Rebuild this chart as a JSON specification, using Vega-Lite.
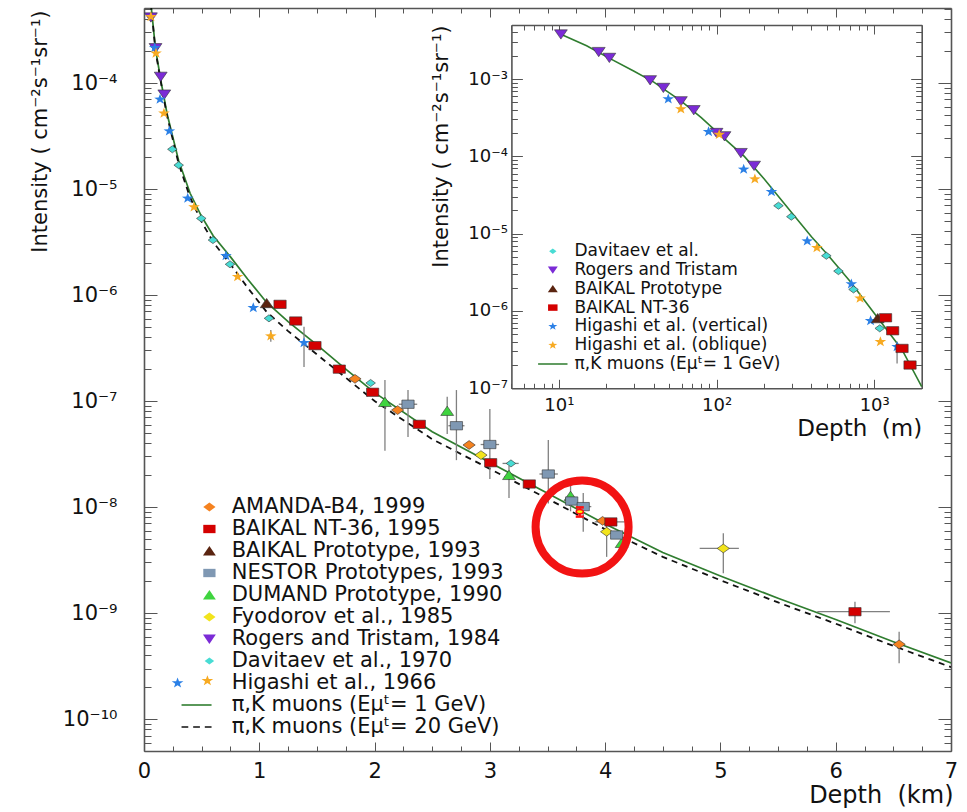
{
  "$schema": "https://vega.github.io/schema/vega-lite/v6.json",
  "width": 807,
  "height": 743,
  "autosize": {"type": "none"},
  "padding": {"left": 144, "top": 8, "right": 16, "bottom": 61},
  "background": "white",
  "config": {"view": {"stroke": null}, "font": "DejaVu Sans"},
  "datasets": {
    "curves": [
      {"series": "1 GeV", "km": 0.05, "v": 7.08e-4},
      {"series": "1 GeV", "km": 0.07, "v": 4.37e-4},
      {"series": "1 GeV", "km": 0.1, "v": 2.09e-4},
      {"series": "1 GeV", "km": 0.15, "v": 1.0e-4},
      {"series": "1 GeV", "km": 0.2, "v": 5.13e-5},
      {"series": "1 GeV", "km": 0.3, "v": 1.86e-5},
      {"series": "1 GeV", "km": 0.4, "v": 9.12e-6},
      {"series": "1 GeV", "km": 0.5, "v": 5.5e-6},
      {"series": "1 GeV", "km": 0.6, "v": 3.63e-6},
      {"series": "1 GeV", "km": 0.75, "v": 2.29e-6},
      {"series": "1 GeV", "km": 0.9, "v": 1.41e-6},
      {"series": "1 GeV", "km": 1.064, "v": 8.51e-7},
      {"series": "1 GeV", "km": 1.25, "v": 5.62e-7},
      {"series": "1 GeV", "km": 1.5, "v": 3.39e-7},
      {"series": "1 GeV", "km": 1.75, "v": 2.0e-7},
      {"series": "1 GeV", "km": 2.0, "v": 1.2e-7},
      {"series": "1 GeV", "km": 2.5, "v": 5.13e-8},
      {"series": "1 GeV", "km": 3.0, "v": 2.63e-8},
      {"series": "1 GeV", "km": 3.5, "v": 1.35e-8},
      {"series": "1 GeV", "km": 4.0, "v": 6.92e-9},
      {"series": "1 GeV", "km": 4.5, "v": 3.72e-9},
      {"series": "1 GeV", "km": 5.0, "v": 2.24e-9},
      {"series": "1 GeV", "km": 5.5, "v": 1.38e-9},
      {"series": "1 GeV", "km": 6.0, "v": 8.71e-10},
      {"series": "1 GeV", "km": 6.5, "v": 5.37e-10},
      {"series": "1 GeV", "km": 7.0, "v": 3.39e-10},
      {"series": "20 GeV", "km": 0.05, "v": 7.08e-4},
      {"series": "20 GeV", "km": 0.07, "v": 4.27e-4},
      {"series": "20 GeV", "km": 0.1, "v": 2.0e-4},
      {"series": "20 GeV", "km": 0.15, "v": 9.66e-5},
      {"series": "20 GeV", "km": 0.2, "v": 4.9e-5},
      {"series": "20 GeV", "km": 0.3, "v": 1.74e-5},
      {"series": "20 GeV", "km": 0.4, "v": 8.32e-6},
      {"series": "20 GeV", "km": 0.5, "v": 4.9e-6},
      {"series": "20 GeV", "km": 0.6, "v": 3.16e-6},
      {"series": "20 GeV", "km": 0.75, "v": 1.95e-6},
      {"series": "20 GeV", "km": 0.9, "v": 1.17e-6},
      {"series": "20 GeV", "km": 1.064, "v": 6.92e-7},
      {"series": "20 GeV", "km": 1.25, "v": 4.57e-7},
      {"series": "20 GeV", "km": 1.5, "v": 2.75e-7},
      {"series": "20 GeV", "km": 1.75, "v": 1.66e-7},
      {"series": "20 GeV", "km": 2.0, "v": 1.0e-7},
      {"series": "20 GeV", "km": 2.5, "v": 4.37e-8},
      {"series": "20 GeV", "km": 3.0, "v": 2.29e-8},
      {"series": "20 GeV", "km": 3.5, "v": 1.2e-8},
      {"series": "20 GeV", "km": 4.0, "v": 6.17e-9},
      {"series": "20 GeV", "km": 4.5, "v": 3.39e-9},
      {"series": "20 GeV", "km": 5.0, "v": 2.04e-9},
      {"series": "20 GeV", "km": 5.5, "v": 1.26e-9},
      {"series": "20 GeV", "km": 6.0, "v": 7.94e-10},
      {"series": "20 GeV", "km": 6.5, "v": 4.9e-10},
      {"series": "20 GeV", "km": 7.0, "v": 3.09e-10}
    ],
    "mainPoints": [
      {"series": "Higashi et al., 1966", "sub": "vertical", "km": 0.093, "v": 2.15e-4},
      {"series": "Higashi et al., 1966", "sub": "vertical", "km": 0.139, "v": 7.01e-5},
      {"series": "Higashi et al., 1966", "sub": "vertical", "km": 0.22, "v": 3.52e-5},
      {"series": "Higashi et al., 1966", "sub": "vertical", "km": 0.379, "v": 8.17e-6},
      {"series": "Higashi et al., 1966", "sub": "vertical", "km": 0.711, "v": 2.35e-6},
      {"series": "Higashi et al., 1966", "sub": "vertical", "km": 0.948, "v": 7.59e-7},
      {"series": "Higashi et al., 1966", "sub": "vertical", "km": 1.388, "v": 3.55e-7, "lo": 2.09e-7, "hi": 5.01e-7},
      {"series": "Rogers and Tristam, 1984", "km": 0.06, "v": 4.17e-4},
      {"series": "Rogers and Tristam, 1984", "km": 0.1, "v": 2.14e-4},
      {"series": "Rogers and Tristam, 1984", "km": 0.145, "v": 1.15e-4},
      {"series": "Rogers and Tristam, 1984", "km": 0.176, "v": 7.82e-5},
      {"series": "Higashi et al., 1966", "sub": "oblique", "km": 0.06, "v": 4.22e-4},
      {"series": "Higashi et al., 1966", "sub": "oblique", "km": 0.104, "v": 1.91e-4},
      {"series": "Higashi et al., 1966", "sub": "oblique", "km": 0.173, "v": 5.18e-5},
      {"series": "Higashi et al., 1966", "sub": "oblique", "km": 0.434, "v": 6.76e-6},
      {"series": "Higashi et al., 1966", "sub": "oblique", "km": 0.812, "v": 1.49e-6},
      {"series": "Higashi et al., 1966", "sub": "oblique", "km": 1.1, "v": 4.1e-7, "lo": 3.63e-7, "hi": 4.68e-7},
      {"series": "Davitaev et al., 1970", "km": 0.246, "v": 2.37e-5},
      {"series": "Davitaev et al., 1970", "km": 0.301, "v": 1.68e-5},
      {"series": "Davitaev et al., 1970", "km": 0.497, "v": 5.28e-6},
      {"series": "Davitaev et al., 1970", "km": 0.598, "v": 3.3e-6},
      {"series": "Davitaev et al., 1970", "km": 0.746, "v": 1.95e-6},
      {"series": "Davitaev et al., 1970", "km": 1.084, "v": 6.03e-7},
      {"series": "Davitaev et al., 1970", "km": 1.966, "v": 1.48e-7},
      {"series": "Davitaev et al., 1970", "km": 3.183, "v": 2.58e-8, "xlo": 3.11, "xhi": 3.25},
      {"series": "AMANDA-B4, 1999", "km": 1.83, "v": 1.62e-7},
      {"series": "AMANDA-B4, 1999", "km": 2.2, "v": 8.22e-8},
      {"series": "AMANDA-B4, 1999", "km": 2.82, "v": 3.85e-8},
      {"series": "AMANDA-B4, 1999", "km": 3.978, "v": 7.41e-9},
      {"series": "AMANDA-B4, 1999", "km": 6.55, "v": 5.07e-10, "lo": 3.36e-10, "hi": 6.67e-10},
      {"series": "DUMAND Prototype, 1990", "km": 2.09, "v": 9.77e-8, "lo": 3.39e-8, "hi": 1.58e-7},
      {"series": "DUMAND Prototype, 1990", "km": 2.63, "v": 8.05e-8, "lo": 4.9e-8, "hi": 1.1e-7},
      {"series": "DUMAND Prototype, 1990", "km": 3.166, "v": 2.0e-8, "lo": 1.22e-8, "hi": 2.45e-8},
      {"series": "DUMAND Prototype, 1990", "km": 3.7, "v": 1.27e-8, "lo": 9.12e-9, "hi": 1.62e-8},
      {"series": "DUMAND Prototype, 1990", "km": 4.143, "v": 4.57e-9},
      {"series": "Fyodorov et al., 1985", "km": 2.923, "v": 3.09e-8},
      {"series": "Fyodorov et al., 1985", "km": 4.013, "v": 5.85e-9, "lo": 3.39e-9, "hi": 7.08e-9},
      {"series": "Fyodorov et al., 1985", "km": 5.025, "v": 4.07e-9, "lo": 2.37e-9, "hi": 5.65e-9, "xlo": 4.82, "xhi": 5.16},
      {"series": "BAIKAL NT-36, 1995", "km": 1.18, "v": 8.17e-7},
      {"series": "BAIKAL NT-36, 1995", "km": 1.316, "v": 5.69e-7},
      {"series": "BAIKAL NT-36, 1995", "km": 1.483, "v": 3.33e-7},
      {"series": "BAIKAL NT-36, 1995", "km": 1.694, "v": 2.0e-7},
      {"series": "BAIKAL NT-36, 1995", "km": 1.983, "v": 1.21e-7},
      {"series": "BAIKAL NT-36, 1995", "km": 2.388, "v": 6.03e-8},
      {"series": "BAIKAL NT-36, 1995", "km": 3.007, "v": 2.62e-8},
      {"series": "BAIKAL NT-36, 1995", "km": 3.342, "v": 1.65e-8},
      {"series": "BAIKAL NT-36, 1995", "km": 4.05, "v": 7.24e-9, "xlo": 3.91, "xhi": 4.19},
      {"series": "BAIKAL NT-36, 1995", "km": 6.167, "v": 1.03e-9, "lo": 8.0e-10, "hi": 1.28e-9, "xlo": 5.84, "xhi": 6.47},
      {"series": "NESTOR Prototypes, 1993", "km": 2.29, "v": 9.33e-8, "lo": 4.57e-8, "hi": 1.27e-7, "xlo": 2.21, "xhi": 2.37},
      {"series": "NESTOR Prototypes, 1993", "km": 2.71, "v": 5.85e-8, "lo": 2.77e-8, "hi": 1.27e-7, "xlo": 2.64, "xhi": 2.78},
      {"series": "NESTOR Prototypes, 1993", "km": 3.0, "v": 3.89e-8, "lo": 1.84e-8, "hi": 8.41e-8, "xlo": 2.92, "xhi": 3.08},
      {"series": "NESTOR Prototypes, 1993", "km": 3.507, "v": 2.05e-8, "lo": 1.08e-8, "hi": 4.29e-8, "xlo": 3.43, "xhi": 3.59},
      {"series": "NESTOR Prototypes, 1993", "km": 3.71, "v": 1.14e-8},
      {"series": "NESTOR Prototypes, 1993", "km": 3.81, "v": 1.01e-8, "lo": 5.86e-9, "hi": 1.36e-8, "xlo": 3.75, "xhi": 3.88},
      {"series": "NESTOR Prototypes, 1993", "km": 4.1, "v": 5.45e-9},
      {"series": "BAIKAL Prototype, 1993", "km": 1.064, "v": 8.36e-7}
    ],
    "highlight": [
      {"km": 3.78, "v": 9.04e-9, "lo": 8.13e-9, "hi": 9.93e-9, "xlo": 3.745, "xhi": 3.815}
    ],
    "ring": [
      {"km": 3.8, "v": 6.47e-9}
    ],
    "insetCurve": [
      {"m": 9.8, "v": 3.98e-3},
      {"m": 15, "v": 2.69e-3},
      {"m": 20, "v": 1.95e-3},
      {"m": 30, "v": 1.26e-3},
      {"m": 40, "v": 9.12e-4},
      {"m": 60, "v": 5.13e-4},
      {"m": 80, "v": 3.16e-4},
      {"m": 100, "v": 2.09e-4},
      {"m": 150, "v": 1.0e-4},
      {"m": 200, "v": 5.13e-5},
      {"m": 300, "v": 1.86e-5},
      {"m": 400, "v": 9.12e-6},
      {"m": 500, "v": 5.5e-6},
      {"m": 700, "v": 2.45e-6},
      {"m": 1000, "v": 9.33e-7},
      {"m": 1500, "v": 3.16e-7},
      {"m": 2000, "v": 1.05e-7}
    ],
    "insetPoints": [
      {"series": "Rogers and Tristam", "m": 10.3, "v": 3.8e-3},
      {"series": "Rogers and Tristam", "m": 17.9, "v": 2.25e-3},
      {"series": "Rogers and Tristam", "m": 20.9, "v": 1.89e-3},
      {"series": "Rogers and Tristam", "m": 37.9, "v": 9.7e-4},
      {"series": "Rogers and Tristam", "m": 46.0, "v": 7.73e-4},
      {"series": "Rogers and Tristam", "m": 59.4, "v": 5.19e-4},
      {"series": "Rogers and Tristam", "m": 71.7, "v": 3.98e-4},
      {"series": "Rogers and Tristam", "m": 100, "v": 2.02e-4},
      {"series": "Rogers and Tristam", "m": 112.3, "v": 1.83e-4},
      {"series": "Rogers and Tristam", "m": 142.6, "v": 1.11e-4},
      {"series": "Rogers and Tristam", "m": 173, "v": 7.59e-5},
      {"series": "Higashi et al. (vertical)", "m": 49.4, "v": 5.51e-4},
      {"series": "Higashi et al. (vertical)", "m": 89, "v": 2.08e-4},
      {"series": "Higashi et al. (vertical)", "m": 148.6, "v": 6.79e-5},
      {"series": "Higashi et al. (vertical)", "m": 223, "v": 3.48e-5},
      {"series": "Higashi et al. (vertical)", "m": 376, "v": 8.02e-6},
      {"series": "Higashi et al. (vertical)", "m": 716, "v": 2.23e-6},
      {"series": "Higashi et al. (vertical)", "m": 948, "v": 7.46e-7},
      {"series": "Higashi et al. (vertical)", "m": 1396, "v": 3.44e-7, "lo": 2.09e-7, "hi": 4.0e-7},
      {"series": "Higashi et al. (oblique)", "m": 59.4, "v": 4.09e-4},
      {"series": "Higashi et al. (oblique)", "m": 104, "v": 1.92e-4},
      {"series": "Higashi et al. (oblique)", "m": 175, "v": 5.08e-5},
      {"series": "Higashi et al. (oblique)", "m": 433, "v": 6.58e-6},
      {"series": "Higashi et al. (oblique)", "m": 813, "v": 1.46e-6},
      {"series": "Higashi et al. (oblique)", "m": 1094, "v": 4.0e-7},
      {"series": "Davitaev et al.", "m": 247, "v": 2.3e-5},
      {"series": "Davitaev et al.", "m": 298, "v": 1.66e-5},
      {"series": "Davitaev et al.", "m": 497, "v": 5.18e-6},
      {"series": "Davitaev et al.", "m": 593, "v": 3.28e-6},
      {"series": "Davitaev et al.", "m": 739, "v": 1.9e-6},
      {"series": "Davitaev et al.", "m": 1084, "v": 5.96e-7},
      {"series": "BAIKAL Prototype", "m": 1052, "v": 8.02e-7},
      {"series": "BAIKAL NT-36", "m": 1180, "v": 8.17e-7},
      {"series": "BAIKAL NT-36", "m": 1309, "v": 5.55e-7},
      {"series": "BAIKAL NT-36", "m": 1501, "v": 3.28e-7},
      {"series": "BAIKAL NT-36", "m": 1687, "v": 2.0e-7}
    ]
  },
  "layer": [
    {
      "name": "main",
      "layer": [
        {
          "data": {"name": "curves"},
          "transform": [{"filter": "datum.series === '1 GeV'"}],
          "mark": {"type": "line", "color": "#2f7d2f", "strokeWidth": 1.7, "clip": true},
          "encoding": {
            "x": {"field": "km", "type": "quantitative", "scale": {"domain": [0, 7], "nice": false, "zero": false},
              "axis": {"orient": "bottom", "values": [0,0.25,0.5,0.75,1,1.25,1.5,1.75,2,2.25,2.5,2.75,3,3.25,3.5,3.75,4,4.25,4.5,4.75,5,5.25,5.5,5.75,6,6.25,6.5,6.75,7],
                "labelExpr": "datum.value % 1 === 0 ? format(datum.value, 'd') : ''",
                "tickSize": {"condition": {"test": "datum.value % 1 === 0", "value": -9}, "value": -5},
                "tickColor": "#555555", "tickWidth": 1, "domainColor": "#555555", "domainWidth": 1.6, "grid": false,
                "labelFont": "DejaVu Sans", "labelFontSize": 21, "labelColor": "#111111", "labelPadding": 18,
                "labelFlush": false, "labelOverlap": false, "labelBound": false,
                "title": "Depth\u00a0 (km)", "titleFont": "DejaVu Sans", "titleFontSize": 24, "titleFontWeight": "normal", "titleColor": "#111111",
                "titleX": 809, "titleY": 44, "titleAlign": "right", "titleBaseline": "middle"}},
            "y": {"field": "v", "type": "quantitative", "scale": {"type": "log", "domain": [5.0e-11, 5.1e-4], "nice": false},
              "axis": {"orient": "left",
                "values": [5e-11,6e-11,7e-11,8e-11,9e-11,1e-10,2e-10,3e-10,4e-10,5e-10,6e-10,7e-10,8e-10,9e-10,1e-9,2e-9,3e-9,4e-9,5e-9,6e-9,7e-9,8e-9,9e-9,1e-8,2e-8,3e-8,4e-8,5e-8,6e-8,7e-8,8e-8,9e-8,1e-7,2e-7,3e-7,4e-7,5e-7,6e-7,7e-7,8e-7,9e-7,1e-6,2e-6,3e-6,4e-6,5e-6,6e-6,7e-6,8e-6,9e-6,1e-5,2e-5,3e-5,4e-5,5e-5,6e-5,7e-5,8e-5,9e-5,1e-4,2e-4,3e-4,4e-4,5e-4],
                "labelExpr": "abs(log(datum.value)/LN10 - round(log(datum.value)/LN10)) < 0.001 ? '10⁻' + (round(-log(datum.value)/LN10) >= 10 ? '¹' + ['⁰','¹','²','³','⁴','⁵','⁶','⁷','⁸','⁹'][round(-log(datum.value)/LN10) - 10] : ['⁰','¹','²','³','⁴','⁵','⁶','⁷','⁸','⁹'][round(-log(datum.value)/LN10)]) : ''",
                "tickSize": {"condition": {"test": "abs(log(datum.value)/LN10 - round(log(datum.value)/LN10)) < 0.001", "value": -13}, "value": -7},
                "tickColor": "#555555", "tickWidth": 1, "domainColor": "#555555", "domainWidth": 1.6, "grid": false,
                "labelFont": "DejaVu Sans", "labelFontSize": 21, "labelColor": "#111111", "labelPadding": 40, "labelBaseline": "middle",
                "labelFlush": false, "labelOverlap": false, "labelBound": false,
                "title": "Intensity ( cm⁻²s⁻¹sr⁻¹)", "titleFont": "DejaVu Sans", "titleFontSize": 21, "titleFontWeight": "normal", "titleColor": "#111111",
                "titleX": -104, "titleY": 2, "titleAngle": 270, "titleAlign": "right", "titleBaseline": "middle"}}
          }
        },
        {
          "data": {"name": "curves"},
          "transform": [{"filter": "datum.series === '20 GeV'"}],
          "mark": {"type": "line", "color": "#111111", "strokeWidth": 1.8, "strokeDash": [6, 5], "clip": true},
          "encoding": {
            "x": {"field": "km", "type": "quantitative", "scale": {"domain": [0, 7], "nice": false, "zero": false}, "axis": null},
            "y": {"field": "v", "type": "quantitative", "scale": {"type": "log", "domain": [5.0e-11, 5.1e-4], "nice": false}, "axis": null}
          }
        },
        {
          "data": {"name": "mainPoints"},
          "transform": [{"filter": "isValid(datum.lo)"}],
          "mark": {"type": "rule", "color": "#808080", "strokeWidth": 1.3},
          "encoding": {
            "x": {"field": "km", "type": "quantitative", "scale": {"domain": [0, 7], "nice": false, "zero": false}, "axis": null},
            "y": {"field": "lo", "type": "quantitative", "scale": {"type": "log", "domain": [5.0e-11, 5.1e-4], "nice": false}, "axis": null},
            "y2": {"field": "hi"}
          }
        },
        {
          "data": {"name": "mainPoints"},
          "transform": [{"filter": "isValid(datum.xlo)"}],
          "mark": {"type": "rule", "color": "#808080", "strokeWidth": 1.3},
          "encoding": {
            "x": {"field": "xlo", "type": "quantitative", "scale": {"domain": [0, 7], "nice": false, "zero": false}, "axis": null},
            "x2": {"field": "xhi"},
            "y": {"field": "v", "type": "quantitative", "scale": {"type": "log", "domain": [5.0e-11, 5.1e-4], "nice": false}, "axis": null}
          }
        },
        {
          "data": {"name": "mainPoints"},
          "transform": [{"filter": "!isValid(datum.sub)"}],
          "mark": {"type": "point", "filled": true, "opacity": 1, "size": 150, "stroke": "#333333", "strokeOpacity": 0.75, "strokeWidth": 0.8},
          "encoding": {
            "x": {"field": "km", "type": "quantitative", "scale": {"domain": [0, 7], "nice": false, "zero": false},
              "axis": {"orient": "top", "values": [0,0.25,0.5,0.75,1,1.25,1.5,1.75,2,2.25,2.5,2.75,3,3.25,3.5,3.75,4,4.25,4.5,4.75,5,5.25,5.5,5.75,6,6.25,6.5,6.75,7],
                "labels": false, "tickSize": {"condition": {"test": "datum.value % 1 === 0", "value": -9}, "value": -5},
                "tickColor": "#555555", "tickWidth": 1, "domainColor": "#555555", "domainWidth": 1.6, "grid": false, "title": null}},
            "y": {"field": "v", "type": "quantitative", "scale": {"type": "log", "domain": [5.0e-11, 5.1e-4], "nice": false},
              "axis": {"orient": "right",
                "values": [5e-11,6e-11,7e-11,8e-11,9e-11,1e-10,2e-10,3e-10,4e-10,5e-10,6e-10,7e-10,8e-10,9e-10,1e-9,2e-9,3e-9,4e-9,5e-9,6e-9,7e-9,8e-9,9e-9,1e-8,2e-8,3e-8,4e-8,5e-8,6e-8,7e-8,8e-8,9e-8,1e-7,2e-7,3e-7,4e-7,5e-7,6e-7,7e-7,8e-7,9e-7,1e-6,2e-6,3e-6,4e-6,5e-6,6e-6,7e-6,8e-6,9e-6,1e-5,2e-5,3e-5,4e-5,5e-5,6e-5,7e-5,8e-5,9e-5,1e-4,2e-4,3e-4,4e-4,5e-4],
                "labels": false,
                "tickSize": {"condition": {"test": "abs(log(datum.value)/LN10 - round(log(datum.value)/LN10)) < 0.001", "value": -13}, "value": -7},
                "tickColor": "#555555", "tickWidth": 1, "domainColor": "#555555", "domainWidth": 1.6, "grid": false, "title": null}},
            "color": {"field": "series", "type": "nominal",
              "scale": {"domain": ["AMANDA-B4, 1999","BAIKAL NT-36, 1995","BAIKAL Prototype, 1993","NESTOR Prototypes, 1993","DUMAND Prototype, 1990","Fyodorov et al., 1985","Rogers and Tristam, 1984","Davitaev et al., 1970","Higashi et al., 1966","π,K muons (Eμᵗ= 1 GeV)","π,K muons (Eμᵗ= 20 GeV)"],
                "range": ["#f58220","#d40000","#5a2410","#7f98b3","#3fd43f","#f2e41c","#7b2bd6","#48dcd4","#2b80e6","#2f7d2f","#111111"]},
              "legend": {"orient": "none", "legendX": 54.9, "legendY": 488.5, "title": null, "padding": 0,
                "symbolSize": 150, "symbolStrokeColor": "#333333", "symbolStrokeWidth": 0.5, "symbolOpacity": 1,
                "labelFont": "DejaVu Sans", "labelFontSize": 21, "labelColor": "#111111",
                "labelOffset": 11.8, "rowPadding": 0, "labelLimit": 500}},
            "shape": {"field": "series", "type": "nominal",
              "scale": {"domain": ["AMANDA-B4, 1999","BAIKAL NT-36, 1995","BAIKAL Prototype, 1993","NESTOR Prototypes, 1993","DUMAND Prototype, 1990","Fyodorov et al., 1985","Rogers and Tristam, 1984","Davitaev et al., 1970","Higashi et al., 1966","π,K muons (Eμᵗ= 1 GeV)","π,K muons (Eμᵗ= 20 GeV)"],
                "range": [
                  "M-1,0L0,-0.72L1,0L0,0.72Z",
                  "M-1,-0.68L1,-0.68L1,0.68L-1,0.68Z",
                  "M0,-0.8L1.05,0.72L-1.05,0.72Z",
                  "M-1,-0.68L1,-0.68L1,0.68L-1,0.68Z",
                  "M0,-0.8L1.05,0.72L-1.05,0.72Z",
                  "M-1,0L0,-0.72L1,0L0,0.72Z",
                  "M0,0.8L1.05,-0.72L-1.05,-0.72Z",
                  "M-0.78,0L0,-0.58L0.78,0L0,0.58Z",
                  "M-5.2,-0.9L-4.965,-0.292L-4.249,-0.278L-4.82,0.112L-4.612,0.728L-5.2,0.36L-5.788,0.728L-5.58,0.112L-6.151,-0.278L-5.435,-0.292Z",
                  "M-4.55,-0.13L0.35,-0.13L0.35,0.13L-4.55,0.13Z",
                  "M-4.55,-0.13L-3.45,-0.13L-3.45,0.13L-4.55,0.13Z M-2.65,-0.13L-1.55,-0.13L-1.55,0.13L-2.65,0.13Z M-0.75,-0.13L0.35,-0.13L0.35,0.13L-0.75,0.13Z"
                ]},
              "legend": {"orient": "none", "legendX": 54.9, "legendY": 488.5, "title": null, "padding": 0,
                "symbolSize": 150, "symbolStrokeColor": "#333333", "symbolStrokeWidth": 0.5, "symbolOpacity": 1,
                "labelFont": "DejaVu Sans", "labelFontSize": 21, "labelColor": "#111111",
                "labelOffset": 11.8, "rowPadding": 0, "labelLimit": 500}}
          }
        },
        {
          "data": {"name": "mainPoints"},
          "transform": [{"filter": "datum.sub === 'vertical'"}],
          "mark": {"type": "point", "filled": true, "opacity": 1, "size": 150, "color": "#2b80e6", "strokeWidth": 0,
            "shape": "M0,-0.9L0.235,-0.292L0.951,-0.278L0.38,0.112L0.588,0.728L0,0.36L-0.588,0.728L-0.38,0.112L-0.951,-0.278L-0.235,-0.292Z"},
          "encoding": {
            "x": {"field": "km", "type": "quantitative", "scale": {"domain": [0, 7], "nice": false, "zero": false}, "axis": null},
            "y": {"field": "v", "type": "quantitative", "scale": {"type": "log", "domain": [5.0e-11, 5.1e-4], "nice": false}, "axis": null}
          }
        },
        {
          "data": {"name": "mainPoints"},
          "transform": [{"filter": "datum.sub === 'oblique'"}],
          "mark": {"type": "point", "filled": true, "size": 150, "color": "#f7aa22", "strokeWidth": 0,
            "shape": "M0,-0.9L0.235,-0.292L0.951,-0.278L0.38,0.112L0.588,0.728L0,0.36L-0.588,0.728L-0.38,0.112L-0.951,-0.278L-0.235,-0.292Z"},
          "encoding": {
            "x": {"field": "km", "type": "quantitative", "scale": {"domain": [0, 7], "nice": false, "zero": false}, "axis": null},
            "y": {"field": "v", "type": "quantitative", "scale": {"type": "log", "domain": [5.0e-11, 5.1e-4], "nice": false}, "axis": null},
            "opacity": {"datum": "oblique", "type": "nominal", "scale": {"domain": ["oblique"], "range": [1]},
              "legend": {"orient": "none", "legendX": 56.9, "legendY": 666.3, "title": null, "padding": 0,
                "labelExpr": "''", "symbolType": "M0,-0.9L0.235,-0.292L0.951,-0.278L0.38,0.112L0.588,0.728L0,0.36L-0.588,0.728L-0.38,0.112L-0.951,-0.278L-0.235,-0.292Z",
                "symbolSize": 150, "symbolFillColor": "#f7aa22", "symbolStrokeWidth": 0}}
          }
        },
        {
          "data": {"name": "highlight"},
          "mark": {"type": "rule", "color": "#ff1010", "strokeWidth": 2.2},
          "encoding": {
            "x": {"field": "km", "type": "quantitative", "scale": {"domain": [0, 7], "nice": false, "zero": false}, "axis": null},
            "y": {"field": "lo", "type": "quantitative", "scale": {"type": "log", "domain": [5.0e-11, 5.1e-4], "nice": false}, "axis": null},
            "y2": {"field": "hi"}
          }
        },
        {
          "data": {"name": "highlight"},
          "mark": {"type": "rule", "color": "#ff1010", "strokeWidth": 2.5},
          "encoding": {
            "x": {"field": "xlo", "type": "quantitative", "scale": {"domain": [0, 7], "nice": false, "zero": false}, "axis": null},
            "x2": {"field": "xhi"},
            "y": {"field": "lo", "type": "quantitative", "scale": {"type": "log", "domain": [5.0e-11, 5.1e-4], "nice": false}, "axis": null}
          }
        },
        {
          "data": {"name": "highlight"},
          "mark": {"type": "rule", "color": "#ff1010", "strokeWidth": 2.5},
          "encoding": {
            "x": {"field": "xlo", "type": "quantitative", "scale": {"domain": [0, 7], "nice": false, "zero": false}, "axis": null},
            "x2": {"field": "xhi"},
            "y": {"field": "hi", "type": "quantitative", "scale": {"type": "log", "domain": [5.0e-11, 5.1e-4], "nice": false}, "axis": null}
          }
        },
        {
          "data": {"name": "highlight"},
          "mark": {"type": "point", "filled": true, "opacity": 1, "size": 50, "fill": "#fff200", "stroke": "#ff1010", "strokeWidth": 1.5, "shape": "M-1,0A1,0.6 0 1,0 1,0A1,0.6 0 1,0 -1,0Z"},
          "encoding": {
            "x": {"field": "km", "type": "quantitative", "scale": {"domain": [0, 7], "nice": false, "zero": false}, "axis": null},
            "y": {"field": "v", "type": "quantitative", "scale": {"type": "log", "domain": [5.0e-11, 5.1e-4], "nice": false}, "axis": null}
          }
        },
        {
          "data": {"name": "ring"},
          "mark": {"type": "point", "shape": "circle", "filled": false, "opacity": 1, "size": 8650, "stroke": "#f21313", "strokeWidth": 8},
          "encoding": {
            "x": {"field": "km", "type": "quantitative", "scale": {"domain": [0, 7], "nice": false, "zero": false}, "axis": null},
            "y": {"field": "v", "type": "quantitative", "scale": {"type": "log", "domain": [5.0e-11, 5.1e-4], "nice": false}, "axis": null}
          }
        }
      ],
      "resolve": {"axis": {"x": "independent", "y": "independent"}}
    },
    {
      "name": "inset",
      "layer": [
        {
          "data": {"name": "insetCurve"},
          "mark": {"type": "line", "color": "#2f7d2f", "strokeWidth": 1.6, "clip": true},
          "encoding": {
            "x": {"field": "m", "type": "quantitative", "scale": {"type": "log", "domain": [5, 2000], "nice": false, "range": [367.4, 777.7]},
              "axis": {"orient": "bottom", "offset": -362.7, "values": [5,6,7,8,9,10,20,30,40,50,60,70,80,90,100,200,300,400,500,600,700,800,900,1000,2000],
                "labelExpr": "datum.value === 10 ? '10¹' : datum.value === 100 ? '10²' : datum.value === 1000 ? '10³' : ''",
                "tickSize": {"condition": {"test": "abs(log(datum.value)/LN10 - round(log(datum.value)/LN10)) < 0.001", "value": -9}, "value": -5},
                "tickColor": "#555555", "tickWidth": 1, "domainColor": "#555555", "domainWidth": 1.6, "grid": false,
                "labelFont": "DejaVu Sans", "labelFontSize": 18, "labelColor": "#111111", "labelPadding": 17,
                "labelFlush": false, "labelOverlap": false, "labelBound": false,
                "title": "Depth\u00a0 (m)", "titleFont": "DejaVu Sans", "titleFontSize": 23, "titleFontWeight": "normal", "titleColor": "#111111",
                "titleX": 777.7, "titleY": 40, "titleAlign": "right", "titleBaseline": "middle"}},
            "y": {"field": "v", "type": "quantitative", "scale": {"type": "log", "domain": [1e-7, 5e-3], "nice": false, "range": [380.3, 17]},
              "axis": {"orient": "left", "offset": -367.4,
                "values": [1e-7,2e-7,3e-7,4e-7,5e-7,6e-7,7e-7,8e-7,9e-7,1e-6,2e-6,3e-6,4e-6,5e-6,6e-6,7e-6,8e-6,9e-6,1e-5,2e-5,3e-5,4e-5,5e-5,6e-5,7e-5,8e-5,9e-5,1e-4,2e-4,3e-4,4e-4,5e-4,6e-4,7e-4,8e-4,9e-4,1e-3,2e-3,3e-3,4e-3,5e-3],
                "labelExpr": "abs(log(datum.value)/LN10 - round(log(datum.value)/LN10)) < 0.001 ? '10⁻' + ['⁰','¹','²','³','⁴','⁵','⁶','⁷','⁸','⁹'][round(-log(datum.value)/LN10)] : ''",
                "tickSize": {"condition": {"test": "abs(log(datum.value)/LN10 - round(log(datum.value)/LN10)) < 0.001", "value": -11}, "value": -6},
                "tickColor": "#555555", "tickWidth": 1, "domainColor": "#555555", "domainWidth": 1.6, "grid": false,
                "labelFont": "DejaVu Sans", "labelFontSize": 18, "labelColor": "#111111", "labelPadding": 15, "labelBaseline": "middle",
                "labelFlush": false, "labelOverlap": false, "labelBound": false,
                "title": "Intensity ( cm⁻²s⁻¹sr⁻¹)", "titleFont": "DejaVu Sans", "titleFontSize": 21, "titleFontWeight": "normal", "titleColor": "#111111",
                "titleX": -70.4, "titleY": 17, "titleAngle": 270, "titleAlign": "right", "titleBaseline": "middle"}}
          }
        },
        {
          "data": {"name": "insetPoints"},
          "transform": [{"filter": "isValid(datum.lo)"}],
          "mark": {"type": "rule", "color": "#808080", "strokeWidth": 1.3},
          "encoding": {
            "x": {"field": "m", "type": "quantitative", "scale": {"type": "log", "domain": [5, 2000], "nice": false, "range": [367.4, 777.7]}, "axis": null},
            "y": {"field": "lo", "type": "quantitative", "scale": {"type": "log", "domain": [1e-7, 5e-3], "nice": false, "range": [380.3, 17]}, "axis": null},
            "y2": {"field": "hi"}
          }
        },
        {
          "data": {"name": "insetPoints"},
          "mark": {"type": "point", "filled": true, "opacity": 1, "size": 150, "stroke": "#333333", "strokeOpacity": 0.75},
          "encoding": {
            "x": {"field": "m", "type": "quantitative", "scale": {"type": "log", "domain": [5, 2000], "nice": false, "range": [367.4, 777.7]},
              "axis": {"orient": "top", "offset": -17, "values": [5,6,7,8,9,10,20,30,40,50,60,70,80,90,100,200,300,400,500,600,700,800,900,1000,2000],
                "labels": false,
                "tickSize": {"condition": {"test": "abs(log(datum.value)/LN10 - round(log(datum.value)/LN10)) < 0.001", "value": -9}, "value": -5},
                "tickColor": "#555555", "tickWidth": 1, "domainColor": "#555555", "domainWidth": 1.6, "grid": false, "title": null}},
            "y": {"field": "v", "type": "quantitative", "scale": {"type": "log", "domain": [1e-7, 5e-3], "nice": false, "range": [380.3, 17]},
              "axis": {"orient": "right", "offset": -29.3,
                "values": [1e-7,2e-7,3e-7,4e-7,5e-7,6e-7,7e-7,8e-7,9e-7,1e-6,2e-6,3e-6,4e-6,5e-6,6e-6,7e-6,8e-6,9e-6,1e-5,2e-5,3e-5,4e-5,5e-5,6e-5,7e-5,8e-5,9e-5,1e-4,2e-4,3e-4,4e-4,5e-4,6e-4,7e-4,8e-4,9e-4,1e-3,2e-3,3e-3,4e-3,5e-3],
                "labels": false,
                "tickSize": {"condition": {"test": "abs(log(datum.value)/LN10 - round(log(datum.value)/LN10)) < 0.001", "value": -11}, "value": -6},
                "tickColor": "#555555", "tickWidth": 1, "domainColor": "#555555", "domainWidth": 1.6, "grid": false, "title": null}},
            "color": {"field": "series", "type": "nominal",
              "scale": {"domain": ["Davitaev et al.","Rogers and Tristam","BAIKAL Prototype","BAIKAL NT-36","Higashi et al. (vertical)","Higashi et al. (oblique)","π,K muons (Eμᵗ= 1 GeV)"],
                "range": ["#48dcd4","#7b2bd6","#5a2410","#d40000","#2b80e6","#f7aa22","#2f7d2f"]},
              "legend": {"orient": "none", "legendX": 400.3, "legendY": 234.7, "title": null, "padding": 0,
                "symbolSize": 90, "symbolStrokeColor": "#333333", "symbolStrokeWidth": 0.5, "symbolOpacity": 1,
                "labelFont": "DejaVu Sans", "labelFontSize": 17, "labelColor": "#111111",
                "labelOffset": 13.2, "rowPadding": 0.8, "labelLimit": 500}},
            "shape": {"field": "series", "type": "nominal",
              "scale": {"domain": ["Davitaev et al.","Rogers and Tristam","BAIKAL Prototype","BAIKAL NT-36","Higashi et al. (vertical)","Higashi et al. (oblique)","π,K muons (Eμᵗ= 1 GeV)"],
                "range": [
                  "M-0.78,0L0,-0.58L0.78,0L0,0.58Z",
                  "M0,0.8L1.05,-0.72L-1.05,-0.72Z",
                  "M0,-0.8L1.05,0.72L-1.05,0.72Z",
                  "M-1,-0.68L1,-0.68L1,0.68L-1,0.68Z",
                  "M0,-0.9L0.235,-0.292L0.951,-0.278L0.38,0.112L0.588,0.728L0,0.36L-0.588,0.728L-0.38,0.112L-0.951,-0.278L-0.235,-0.292Z",
                  "M0,-0.9L0.235,-0.292L0.951,-0.278L0.38,0.112L0.588,0.728L0,0.36L-0.588,0.728L-0.38,0.112L-0.951,-0.278L-0.235,-0.292Z",
                  "M-3.1,-0.16L3.1,-0.16L3.1,0.16L-3.1,0.16Z"
                ]},
              "legend": {"orient": "none", "legendX": 400.3, "legendY": 234.7, "title": null, "padding": 0,
                "symbolSize": 90, "symbolStrokeColor": "#333333", "symbolStrokeWidth": 0.5, "symbolOpacity": 1,
                "labelFont": "DejaVu Sans", "labelFontSize": 17, "labelColor": "#111111",
                "labelOffset": 13.2, "rowPadding": 0.8, "labelLimit": 500}},
            "strokeWidth": {"condition": {"test": "indexof(datum.series, 'Higashi') >= 0", "value": 0}, "value": 0.8}
          }
        }
      ],
      "resolve": {"axis": {"x": "independent", "y": "independent"}}
    }
  ],
  "resolve": {
    "scale": {"x": "independent", "y": "independent", "color": "independent", "shape": "independent"},
    "axis": {"x": "independent", "y": "independent"},
    "legend": {"color": "independent", "shape": "independent"}
  }
}
